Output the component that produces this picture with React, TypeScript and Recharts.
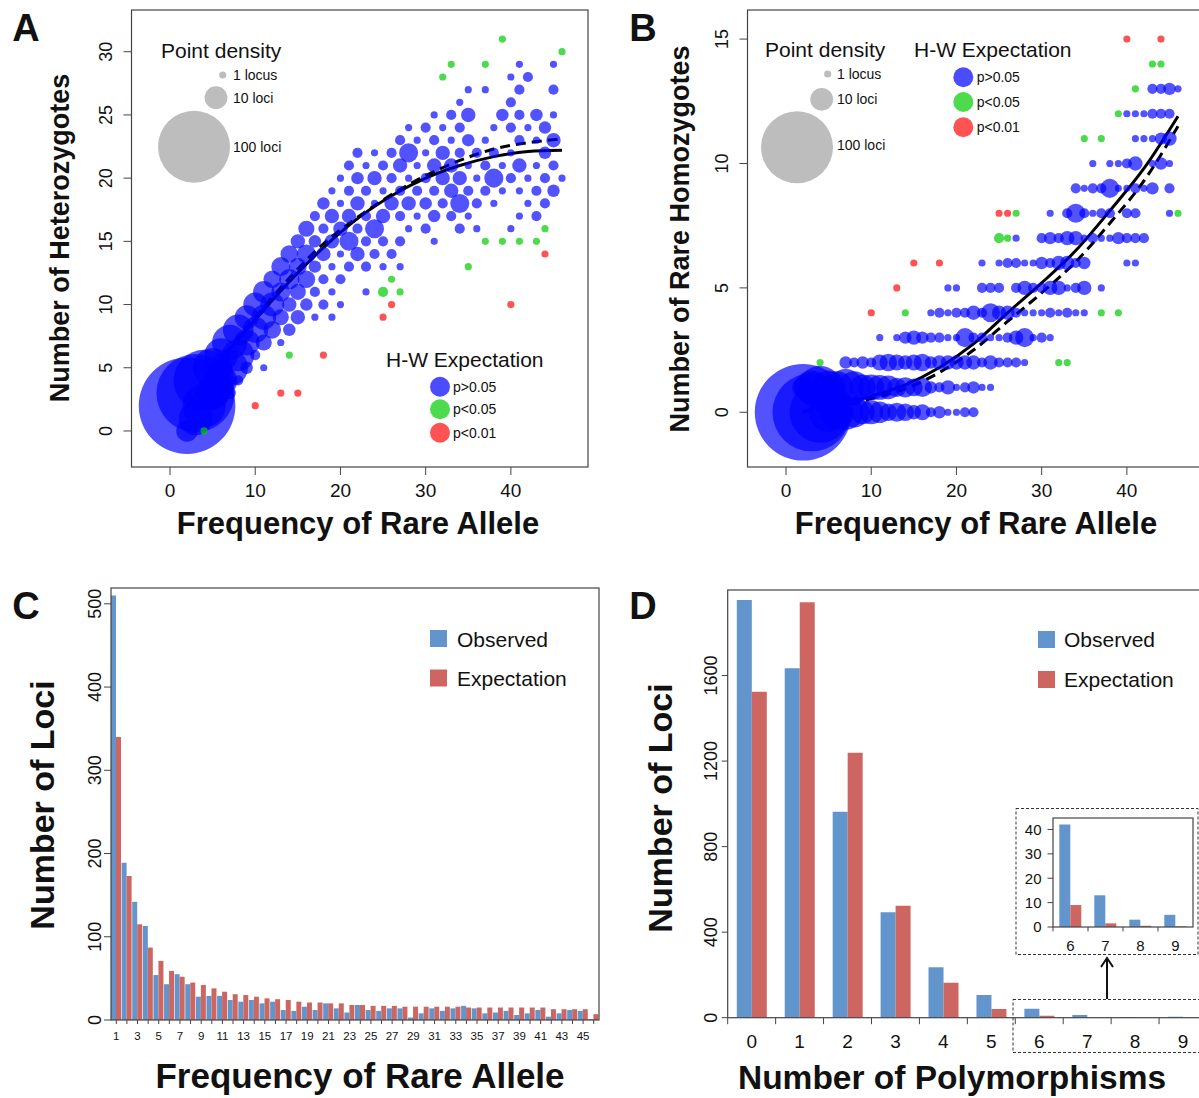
import React from "react";
import { ComposedChart, Scatter, Line, XAxis, YAxis, ZAxis, BarChart, Bar } from "recharts";

const FONT = "'Liberation Sans', Arial, Helvetica, sans-serif";
const INK = "#111";
const FRAME = "#444";
const OBS = "#6195cb";
const EXP = "#cd6661";

// bubble area per locus in px^2 (legend "1 locus" dot ~3.6px radius)
const AREA_PER_LOCUS = 40.7;

// [frequency of rare allele, heterozygotes, rare homozygotes, loci]
const lociNS = [
  [2, 2, 0, 180], [2, 0, 1, 9],
  [3, 3, 0, 118], [3, 1, 1, 22],
  [4, 4, 0, 72], [4, 2, 1, 36],
  [5, 5, 0, 30], [5, 3, 1, 22],
  [6, 6, 0, 22], [6, 4, 1, 20],
  [7, 7, 0, 24], [7, 5, 1, 26], [7, 3, 2, 3],
  [8, 8, 0, 18], [8, 6, 1, 20], [8, 4, 2, 2],
  [9, 9, 0, 11], [9, 7, 1, 13], [9, 5, 2, 3],
  [10, 10, 0, 11], [10, 8, 1, 13], [10, 6, 2, 2],
  [11, 11, 0, 9], [11, 9, 1, 12], [11, 7, 2, 5], [11, 5, 3, 1],
  [12, 12, 0, 6], [12, 10, 1, 11], [12, 8, 2, 6],
  [13, 13, 0, 7], [13, 11, 1, 7], [13, 9, 2, 5], [13, 7, 3, 1],
  [14, 14, 0, 6], [14, 12, 1, 8], [14, 10, 2, 4], [14, 8, 3, 3],
  [15, 15, 0, 4], [15, 13, 1, 6], [15, 11, 2, 5], [15, 9, 3, 4],
  [16, 16, 0, 5], [16, 14, 1, 7], [16, 12, 2, 6], [16, 10, 3, 3],
  [17, 17, 0, 2], [17, 15, 1, 3], [17, 13, 2, 3], [17, 11, 3, 2], [17, 9, 4, 1],
  [18, 18, 0, 3], [18, 16, 1, 2], [18, 14, 2, 4], [18, 12, 3, 2], [18, 10, 4, 2],
  [19, 19, 0, 1], [19, 17, 1, 4], [19, 15, 2, 4], [19, 13, 3, 1], [19, 11, 4, 1], [19, 9, 5, 1],
  [20, 20, 0, 1], [20, 18, 1, 1], [20, 16, 2, 4], [20, 14, 3, 1], [20, 12, 4, 2], [20, 10, 5, 1],
  [21, 21, 0, 2], [21, 19, 1, 2], [21, 17, 2, 4], [21, 15, 3, 7], [21, 13, 4, 2],
  [22, 22, 0, 2], [22, 20, 1, 3], [22, 18, 2, 4], [22, 16, 3, 2], [22, 14, 4, 4],
  [23, 21, 1, 1], [23, 19, 2, 2], [23, 17, 3, 2], [23, 15, 4, 2], [23, 13, 5, 2], [23, 11, 6, 1],
  [24, 22, 1, 1], [24, 20, 2, 4], [24, 18, 3, 1], [24, 16, 4, 7], [24, 14, 5, 2],
  [25, 21, 2, 2], [25, 19, 3, 1], [25, 17, 4, 4], [25, 15, 5, 2], [25, 13, 6, 1],
  [26, 22, 2, 2], [26, 20, 3, 2], [26, 18, 4, 4], [26, 14, 6, 2],
  [27, 23, 2, 2], [27, 21, 3, 4], [27, 19, 4, 2], [27, 17, 5, 2], [27, 15, 6, 2], [27, 13, 7, 1],
  [28, 24, 2, 1], [28, 22, 3, 7], [28, 20, 4, 1], [28, 18, 5, 4], [28, 16, 6, 1],
  [29, 23, 3, 1], [29, 21, 4, 1], [29, 19, 5, 2], [29, 17, 6, 1],
  [30, 24, 3, 2], [30, 22, 4, 1], [30, 20, 5, 2], [30, 18, 6, 3], [30, 16, 7, 2],
  [31, 25, 3, 1], [31, 23, 4, 2], [31, 21, 5, 4], [31, 19, 6, 2], [31, 17, 7, 3], [31, 15, 8, 1],
  [32, 24, 4, 1], [32, 22, 5, 4], [32, 20, 6, 4], [32, 18, 7, 2],
  [33, 25, 4, 2], [33, 23, 5, 1], [33, 21, 6, 4], [33, 19, 7, 4], [33, 17, 8, 2],
  [34, 26, 4, 1], [34, 24, 5, 2], [34, 22, 6, 2], [34, 20, 7, 4], [34, 18, 8, 7], [34, 16, 9, 2],
  [35, 27, 4, 1], [35, 25, 5, 4], [35, 23, 6, 3], [35, 21, 7, 1], [35, 19, 8, 2], [35, 17, 9, 1],
  [36, 22, 7, 2], [36, 20, 8, 1], [36, 18, 9, 2], [36, 16, 10, 1],
  [37, 27, 5, 1], [37, 23, 7, 1], [37, 21, 8, 2], [37, 19, 9, 2],
  [38, 24, 7, 1], [38, 22, 8, 2], [38, 20, 9, 7], [38, 18, 10, 1],
  [39, 25, 7, 3], [39, 21, 9, 1], [39, 19, 10, 1],
  [40, 28, 6, 1], [40, 26, 7, 2], [40, 24, 8, 2], [40, 22, 9, 1], [40, 20, 10, 2], [40, 16, 12, 1],
  [41, 29, 6, 1], [41, 27, 7, 2], [41, 25, 8, 2], [41, 23, 9, 2], [41, 21, 10, 4], [41, 19, 11, 1], [41, 17, 12, 1],
  [42, 28, 7, 2], [42, 24, 9, 1], [42, 20, 11, 1], [42, 18, 12, 1],
  [43, 25, 9, 3], [43, 23, 10, 1], [43, 21, 11, 1], [43, 19, 12, 2], [43, 17, 13, 2],
  [44, 24, 10, 3], [44, 22, 11, 3], [44, 20, 12, 2], [44, 18, 13, 2],
  [45, 29, 8, 1], [45, 27, 9, 2], [45, 25, 10, 1], [45, 23, 11, 4], [45, 21, 12, 2], [45, 19, 13, 3],
  [46, 20, 13, 1],
];

// H-W test p<0.05
const lociP05 = [
  [4, 0, 2, 1], [14, 6, 4, 1], [25, 11, 7, 2], [26, 12, 7, 1], [27, 11, 8, 1],
  [32, 28, 2, 1], [33, 29, 2, 1], [35, 13, 11, 1], [37, 29, 4, 1], [37, 15, 11, 1],
  [39, 31, 4, 1], [39, 15, 12, 1], [41, 15, 13, 1], [43, 15, 14, 1], [44, 16, 14, 1],
  [46, 30, 8, 1],
];

// H-W test p<0.01
const lociP01 = [
  [10, 2, 4, 1], [13, 3, 5, 1], [15, 3, 6, 1], [18, 6, 6, 1],
  [25, 9, 8, 1], [26, 10, 8, 1], [40, 10, 15, 1], [44, 14, 15, 1],
];

// fitted (solid) and expected (dashed) curves
const curveFreq = [2, 6, 10, 14, 18, 22, 26, 30, 34, 38, 42, 46];
const hetSolid = [1.85, 5.6, 8.8, 11.8, 14.5, 16.8, 18.6, 20.0, 21.0, 21.7, 22.1, 22.2];
const hetDashed = [1.9, 5.7, 9.0, 12.1, 14.8, 16.9, 18.7, 20.2, 21.4, 22.3, 22.8, 23.1];
const homSolid = [0.04, 0.3, 0.65, 1.1, 1.8, 2.75, 4.0, 5.2, 6.5, 8.1, 9.8, 11.9];
const homDashed = [0.02, 0.2, 0.55, 0.95, 1.6, 2.5, 3.65, 4.8, 6.05, 7.6, 9.3, 11.5];

// panel C
const rareFreq = [1, 2, 3, 4, 5, 6, 7, 8, 9, 10, 11, 12, 13, 14, 15, 16, 17, 18, 19, 20, 21, 22, 23,
  24, 25, 26, 27, 28, 29, 30, 31, 32, 33, 34, 35, 36, 37, 38, 39, 40, 41, 42, 43, 44, 45, 46];
const obsByFreq = [510, 189, 142, 113, 54, 43, 55, 43, 28, 29, 29, 24, 22, 24, 20, 22, 12, 11, 16, 12,
  20, 14, 9, 18, 12, 11, 14, 14, 3, 8, 14, 11, 14, 17, 14, 8, 9, 11, 6, 8, 12, 4, 8, 12, 11, 1];
const expByFreq = [340, 173, 115, 87, 71, 59, 52, 45, 42, 38, 34, 31, 30, 28, 26, 25, 24, 22, 21, 21,
  20, 20, 18, 18, 17, 17, 17, 16, 16, 16, 16, 16, 16, 15, 15, 15, 15, 15, 15, 15, 15, 13, 13, 13, 13, 7];

// panel D
const polyCount = ["0", "1", "2", "3", "4", "5", "6", "7", "8", "9"];
const obsByPoly = [1953, 1634, 963, 493, 236, 106, 42, 13, 3, 5];
const expByPoly = [1524, 1943, 1239, 524, 164, 41, 9, 1.5, 0.5, 0.3];

const toLoci = (rows: number[][]) => rows.map(([freq, het, hom, n]) => ({ freq, het, hom, n }));
const toCurve = (ys: number[]) => curveFreq.map((freq, i) => ({ freq, y: ys[i] }));

const rotTick = (fs: number) => (p: any) => (
  <text x={p.x} y={p.y} transform={`rotate(-90 ${p.x} ${p.y})`} textAnchor="middle"
    fontSize={fs} fontFamily={FONT} fill={INK}>{p.payload.value}</text>
);

const bubbleXTick = (p: any) => (
  <text x={p.x} y={p.y + 22} textAnchor="middle" fontSize={19} fontFamily={FONT} fill={INK}>
    {p.payload.value}
  </text>
);

const freqTick = (p: any) =>
  p.payload.value % 2 === 1 ? (
    <text x={p.x} y={p.y + 16} textAnchor="middle" fontSize={11.5} fontFamily={FONT} fill={INK}>
      {p.payload.value}
    </text>
  ) : (
    <g />
  );

// category ticks with the tick mark on the left band edge
const edgeTick = (len: number, dy: number, fs: number) => (p: any) => {
  const half = p.payload.offset ?? 0;
  return (
    <g>
      <line x1={p.x - half} x2={p.x - half} y1={p.y} y2={p.y + len} stroke={FRAME} />
      <text x={p.x} y={p.y + dy} textAnchor="middle" fontSize={fs} fontFamily={FONT} fill={INK}>
        {p.payload.value}
      </text>
    </g>
  );
};

const insetYTick = (p: any) => (
  <text x={p.x} y={p.y} dy="0.36em" textAnchor="end" fontSize={15} fontFamily={FONT} fill={INK}>
    {p.payload.value}
  </text>
);

function BubblePanel({ left, yKey, yDomain, yTicks, solid, dashed }: any) {
  return (
    <div style={{ position: "absolute", left, top: 0 }}>
      <ComposedChart width={600} height={560} margin={{ top: 10, right: 12, bottom: 0, left: 0 }}>
        <XAxis type="number" dataKey="freq" domain={[-4.52, 49.05]} ticks={[0, 10, 20, 30, 40]}
          allowDataOverflow axisLine={false} tickLine={{ stroke: FRAME }} tickSize={8} tickMargin={0}
          height={93} tick={bubbleXTick} />
        <YAxis type="number" dataKey={yKey} domain={yDomain} ticks={yTicks} allowDataOverflow
          axisLine={false} tickLine={{ stroke: FRAME }} tickSize={8} tickMargin={11} width={131.5}
          tick={rotTick(18)} />
        <ZAxis type="number" dataKey="n" domain={[0, 200]} range={[0, 200 * AREA_PER_LOCUS]} />
        <Scatter data={toLoci(lociNS)} fill="#0000ff" fillOpacity={0.68} isAnimationActive={false} />
        <Scatter data={toLoci(lociP05)} fill="#00cc00" fillOpacity={0.7} isAnimationActive={false} />
        <Scatter data={toLoci(lociP01)} fill="#ff0a0a" fillOpacity={0.7} isAnimationActive={false} />
        <Line data={toCurve(solid)} dataKey="y" type="monotone" stroke="#000" strokeWidth={3}
          dot={false} isAnimationActive={false} />
        <Line data={toCurve(dashed)} dataKey="y" type="monotone" stroke="#000" strokeWidth={3}
          strokeDasharray="10 6" dot={false} isAnimationActive={false} />
      </ComposedChart>
    </div>
  );
}

function FreqPanel() {
  const rows = rareFreq.map((freq, i) => ({ freq, obs: obsByFreq[i], exp: expByFreq[i] }));
  return (
    <div style={{ position: "absolute", left: 0, top: 570 }}>
      <BarChart width={620} height={528} data={rows} margin={{ top: 18, right: 21, bottom: 0, left: 0 }}
        barCategoryGap={0} barGap={0}>
        <XAxis dataKey="freq" interval={0} height={78} tickSize={4} tickMargin={0} axisLine={false}
          tickLine={{ stroke: FRAME }} tick={freqTick} />
        <YAxis domain={[0, 519]} ticks={[0, 100, 200, 300, 400, 500]} allowDataOverflow width={111}
          tickSize={7} tickMargin={3} axisLine={false} tickLine={{ stroke: FRAME }} tick={rotTick(18)} />
        <Bar dataKey="obs" fill={OBS} isAnimationActive={false} />
        <Bar dataKey="exp" fill={EXP} isAnimationActive={false} />
      </BarChart>
    </div>
  );
}

function PolyPanel() {
  const rows = polyCount.map((k, i) => ({ k, obs: obsByPoly[i], exp: expByPoly[i] }));
  return (
    <div style={{ position: "absolute", left: 616, top: 570 }}>
      <BarChart width={620} height={528} data={rows} margin={{ top: 20, right: 29, bottom: 0, left: 0 }}
        barCategoryGap="19%" barGap={0}>
        <XAxis dataKey="k" interval={0} height={80.3} tickSize={0} tickMargin={0} axisLine={false}
          tickLine={false} tick={edgeTick(6.5, 30.6, 19)} />
        <YAxis domain={[0, 2000]} ticks={[0, 400, 800, 1200, 1600]} allowDataOverflow width={111.7}
          tickSize={6} tickMargin={5} axisLine={false} tickLine={{ stroke: FRAME }} tick={rotTick(18)} />
        <Bar dataKey="obs" fill={OBS} isAnimationActive={false} />
        <Bar dataKey="exp" fill={EXP} isAnimationActive={false} />
      </BarChart>
    </div>
  );
}

function InsetPanel() {
  const rows = polyCount.map((k, i) => ({ k, obs: obsByPoly[i], exp: expByPoly[i] })).slice(6);
  return (
    <div style={{ position: "absolute", left: 1000, top: 800 }}>
      <BarChart width={200} height={160} data={rows} margin={{ top: 18, right: 7, bottom: 0, left: 0 }}
        barCategoryGap="18%" barGap={0}>
        <XAxis dataKey="k" interval={0} height={33} tickSize={0} tickMargin={0} axisLine={false}
          tickLine={false} tick={edgeTick(4.5, 23.7, 15)} />
        <YAxis domain={[0, 44.7]} ticks={[0, 10, 20, 30, 40]} allowDataOverflow width={53} tickSize={5.5}
          tickMargin={6} axisLine={false} tickLine={{ stroke: FRAME }} tick={insetYTick} />
        <Bar dataKey="obs" fill={OBS} isAnimationActive={false} />
        <Bar dataKey="exp" fill={EXP} isAnimationActive={false} />
      </BarChart>
    </div>
  );
}

function Overlay() {
  const br = (n: number) => Math.sqrt((n * AREA_PER_LOCUS) / Math.PI);
  const T = (props: any) => <text fontFamily={FONT} fill={INK} {...props} />;
  const bold = { fontWeight: "bold", textAnchor: "middle" };
  const rot = (x: number, y: number) => `rotate(-90 ${x} ${y})`;
  const grey = "#bdbdbd";
  return (
    <svg width={1199} height={1098} style={{ position: "absolute", left: 0, top: 0, pointerEvents: "none" }}>
      {/* frames */}
      <rect x={131.5} y={10} width={456.5} height={457} fill="none" stroke={FRAME} strokeWidth={1.2} />
      <rect x={747.5} y={10} width={456.5} height={457} fill="none" stroke={FRAME} strokeWidth={1.2} />
      <rect x={111} y={588} width={488} height={432} fill="none" stroke={FRAME} strokeWidth={1.2} />
      <rect x={727.7} y={590} width={479.3} height={427.7} fill="none" stroke={FRAME} strokeWidth={1.2} />
      <rect x={1053} y={818} width={140} height={109} fill="none" stroke={FRAME} strokeWidth={1.2} />
      <rect x={1016} y={808.5} width={182} height={146} fill="none" stroke="#333" strokeDasharray="3 2" />
      <rect x={1013} y={999.5} width={200} height={53} fill="none" stroke="#333" strokeDasharray="3 2" />
      <line x1={1107} x2={1107} y1={999} y2={959} stroke="#111" strokeWidth={2} />
      <polyline points="1101,967 1107,958 1113,967" fill="none" stroke="#111" strokeWidth={2} />

      {/* panel letters */}
      <T x={26} y={41} fontSize={38} {...bold}>A</T>
      <T x={643} y={41} fontSize={38} {...bold}>B</T>
      <T x={26} y={619} fontSize={38} {...bold}>C</T>
      <T x={643} y={619} fontSize={38} {...bold}>D</T>

      {/* axis titles */}
      <T x={358} y={534} fontSize={31} {...bold}>Frequency of Rare Allele</T>
      <T x={69} y={238} fontSize={27} {...bold} transform={rot(69, 238)}>Number of Heterozygotes</T>
      <T x={976} y={534} fontSize={31} {...bold}>Frequency of Rare Allele</T>
      <T x={689} y={239} fontSize={27} {...bold} transform={rot(689, 239)}>Number of Rare Homozygotes</T>
      <T x={360} y={1088} fontSize={35} {...bold}>Frequency of Rare Allele</T>
      <T x={54} y={805} fontSize={34} {...bold} transform={rot(54, 805)}>Number of Loci</T>
      <T x={952} y={1089} fontSize={33.5} {...bold}>Number of Polymorphisms</T>
      <T x={672} y={808} fontSize={34} {...bold} transform={rot(672, 808)}>Number of Loci</T>

      {/* A legends */}
      <T x={161} y={57.5} fontSize={21}>Point density</T>
      <circle cx={222.7} cy={75} r={br(1)} fill={grey} />
      <circle cx={216} cy={97.7} r={br(10)} fill={grey} />
      <circle cx={194} cy={146.7} r={br(100)} fill={grey} />
      <T x={233} y={80} fontSize={14}>1 locus</T>
      <T x={233} y={103} fontSize={14}>10 loci</T>
      <T x={233} y={152} fontSize={14}>100 loci</T>
      <T x={386} y={366.5} fontSize={21}>H-W Expectation</T>
      <circle cx={440} cy={386.7} r={10} fill="#0000ff" fillOpacity={0.7} />
      <circle cx={440} cy={409.3} r={10} fill="#00cc00" fillOpacity={0.7} />
      <circle cx={440} cy={432.7} r={10} fill="#ff0a0a" fillOpacity={0.7} />
      <T x={453} y={391.7} fontSize={14}>p&gt;0.05</T>
      <T x={453} y={414.3} fontSize={14}>p&lt;0.05</T>
      <T x={453} y={437.7} fontSize={14}>p&lt;0.01</T>

      {/* B legends */}
      <T x={765} y={57} fontSize={21}>Point density</T>
      <circle cx={827.7} cy={74} r={br(1)} fill={grey} />
      <circle cx={821.7} cy={99.3} r={br(10)} fill={grey} />
      <circle cx={797} cy={147.3} r={br(100)} fill={grey} />
      <T x={837} y={79} fontSize={14}>1 locus</T>
      <T x={837} y={104.3} fontSize={14}>10 loci</T>
      <T x={837} y={149.7} fontSize={14}>100 loci</T>
      <T x={914} y={57} fontSize={21}>H-W Expectation</T>
      <circle cx={963.3} cy={77.3} r={10} fill="#0000ff" fillOpacity={0.7} />
      <circle cx={963.3} cy={102} r={10} fill="#00cc00" fillOpacity={0.7} />
      <circle cx={963.3} cy={127.3} r={10} fill="#ff0a0a" fillOpacity={0.7} />
      <T x={976.7} y={82.3} fontSize={14}>p&gt;0.05</T>
      <T x={976.7} y={107} fontSize={14}>p&lt;0.05</T>
      <T x={976.7} y={132.3} fontSize={14}>p&lt;0.01</T>

      {/* C / D legends */}
      <rect x={430} y={630} width={17} height={17} fill={OBS} />
      <rect x={430} y={669.5} width={17} height={17} fill={EXP} />
      <T x={457} y={646.5} fontSize={21}>Observed</T>
      <T x={457} y={686} fontSize={21}>Expectation</T>
      <rect x={1038} y={631} width={17} height={17} fill={OBS} />
      <rect x={1038} y={671} width={17} height={17} fill={EXP} />
      <T x={1064} y={646.5} fontSize={21}>Observed</T>
      <T x={1064} y={686.5} fontSize={21}>Expectation</T>
    </svg>
  );
}

export default function App() {
  return (
    <div style={{ position: "absolute", left: 0, top: 0, width: 1199, height: 1098, overflow: "hidden",
      background: "#fff", fontFamily: FONT }}>
      <BubblePanel left={0} yKey="het" yDomain={[-2.85, 33.3]} yTicks={[0, 5, 10, 15, 20, 25, 30]}
        solid={hetSolid} dashed={hetDashed} />
      <BubblePanel left={616} yKey="hom" yDomain={[-2.2, 16.17]} yTicks={[0, 5, 10, 15]}
        solid={homSolid} dashed={homDashed} />
      <FreqPanel />
      <PolyPanel />
      <InsetPanel />
      <Overlay />
    </div>
  );
}
